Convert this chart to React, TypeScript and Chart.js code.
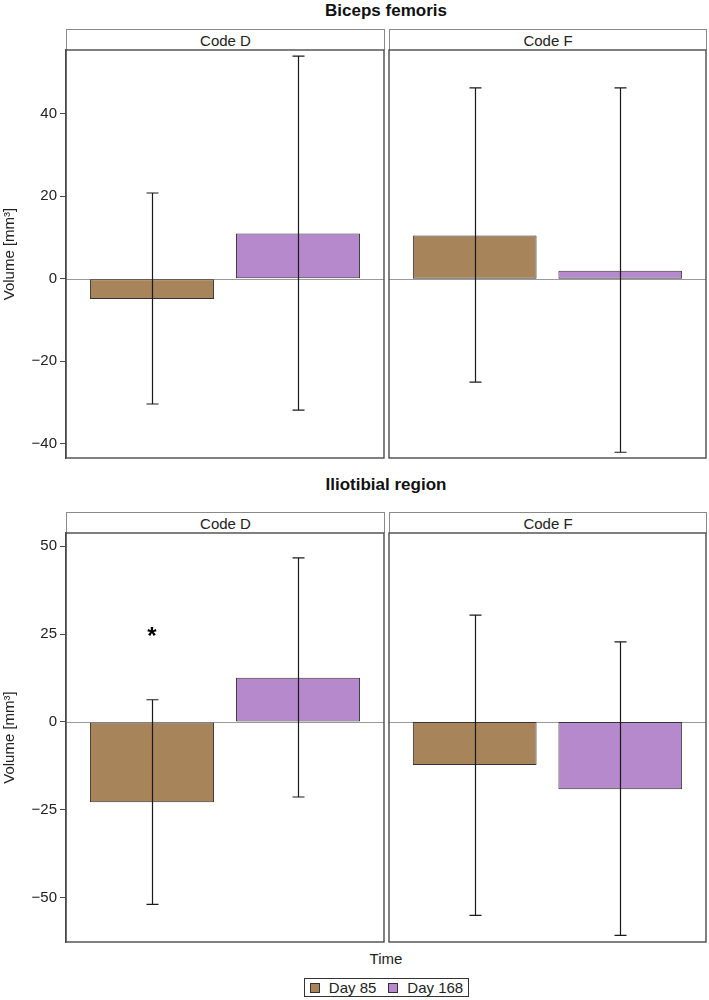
import React, { useEffect, useRef } from "react";
import { Chart, registerables } from "chart.js";

Chart.register(...registerables);

// ---------- data ----------
const timeLabels = ["Day 85", "Day 168"];
const codeLabels = ["Code D", "Code F"];
const regionTitles = ["Biceps femoris", "Iliotibial region"];
const xPositions = [1, 2];

const bicepsMeanD = [-4.9, 11.0];
const bicepsLowD = [-30.4, -31.9];
const bicepsHighD = [20.8, 54.0];
const bicepsMeanF = [10.5, 1.95];
const bicepsLowF = [-25.1, -42.1];
const bicepsHighF = [46.3, 46.3];

const iliotibialMeanD = [-22.9, 12.6];
const iliotibialLowD = [-52.0, -21.4];
const iliotibialHighD = [6.3, 46.7];
const iliotibialMeanF = [-12.3, -19.2];
const iliotibialLowF = [-55.1, -60.8];
const iliotibialHighF = [30.4, 22.8];

const bicepsTicks = [-40, -20, 0, 20, 40];
const iliotibialTicks = [-50, -25, 0, 25, 50];
const bicepsRange = [-43.5, 55.5];
const iliotibialRange = [-62.7, 53.8];

// significance marks: [index within panel, value]
const iliotibialStarsD = [[0, 25.5]];

const barColors = ["#A8845A", "#B689CC"];
const FONT = '"Liberation Sans", Arial, Helvetica, sans-serif';

Chart.defaults.font.family = FONT;

type PanelProps = {
  means: number[];
  lows: number[];
  highs: number[];
  range: number[];
  ticks: number[];
  showAxis: boolean;
  stars?: number[][];
  left: number;
  top: number;
  width: number;
  height: number;
};

function Panel(p: PanelProps) {
  const ref = useRef<HTMLCanvasElement | null>(null);
  useEffect(() => {
    if (!ref.current) return;
    const panelPlugin = {
      id: "panelDecor",
      beforeDatasetsDraw(chart: any) {
        const { ctx, chartArea } = chart;
        const y = Math.round(chart.scales.y.getPixelForValue(0)) + 0.5;
        ctx.save();
        ctx.strokeStyle = "#9a9a9a";
        ctx.lineWidth = 1;
        ctx.beginPath();
        ctx.moveTo(chartArea.left, y);
        ctx.lineTo(chartArea.right, y);
        ctx.stroke();
        ctx.restore();
      },
      afterDatasetsDraw(chart: any) {
        const { ctx, chartArea } = chart;
        const ys = chart.scales.y;
        const meta = chart.getDatasetMeta(0);
        ctx.save();
        ctx.strokeStyle = "#1a1a1a";
        ctx.lineWidth = 1.2;
        meta.data.forEach((el: any, i: number) => {
          const x = Math.round(el.x) + 0.5;
          const yl = ys.getPixelForValue(p.lows[i]);
          const yh = ys.getPixelForValue(p.highs[i]);
          ctx.beginPath();
          ctx.moveTo(x, yl);
          ctx.lineTo(x, yh);
          ctx.moveTo(x - 6, yl);
          ctx.lineTo(x + 6, yl);
          ctx.moveTo(x - 6, yh);
          ctx.lineTo(x + 6, yh);
          ctx.stroke();
        });
        (p.stars || []).forEach((s) => {
          const el = meta.data[s[0]];
          ctx.fillStyle = "#000";
          ctx.font = `bold 24px ${FONT}`;
          ctx.textAlign = "center";
          ctx.textBaseline = "middle";
          ctx.fillText("*", el.x, ys.getPixelForValue(s[1]) + 5);
        });
        ctx.strokeStyle = "#4a4a4a";
        ctx.lineWidth = 1.4;
        ctx.strokeRect(
          chartArea.left,
          chartArea.top,
          chartArea.right - chartArea.left,
          chartArea.bottom - chartArea.top
        );
        ctx.restore();
      },
    };

    const chart = new Chart(ref.current, {
      type: "bar",
      data: {
        datasets: [
          {
            data: p.means.map((v, i) => ({ x: xPositions[i], y: v })),
            backgroundColor: barColors,
            borderColor: "#333333",
            borderWidth: 1,
            borderSkipped: false,
            barPercentage: 0.85,
            categoryPercentage: 1,
          },
        ],
      },
      options: {
        responsive: false,
        animation: false,
        devicePixelRatio: 1,
        layout: {
          padding: { top: 2, bottom: 2, right: 2, left: p.showAxis ? 0 : 2 },
        },
        plugins: { legend: { display: false }, tooltip: { enabled: false } },
        scales: {
          x: {
            type: "linear",
            min: 0.411,
            max: 2.589,
            offset: false,
            grid: { offset: false },
            display: false,
            afterBuildTicks: (s: any) => {
              s.ticks = xPositions.map((v) => ({ value: v }));
            },
          },
          y: {
            type: "linear",
            min: p.range[0],
            max: p.range[1],
            display: p.showAxis,
            afterBuildTicks: (s: any) => {
              s.ticks = p.ticks.map((v) => ({ value: v }));
            },
            afterFit: (s: any) => {
              if (p.showAxis) s.width = 66;
              s.paddingTop = 0;
              s.paddingBottom = 0;
            },
            grid: {
              drawOnChartArea: false,
              drawTicks: true,
              tickLength: 6,
              color: "#4a4a4a",
            },
            border: { display: true, color: "#4a4a4a", width: 1.4 },
            ticks: {
              font: { size: 15 },
              color: "#222",
              padding: 3,
              callback: (v: any) => (Number(v) < 0 ? "\u2212" + Math.abs(Number(v)) : String(v)),
            },
            title: {
              display: true,
              text: "Volume [mm\u00B3]",
              font: { size: 15 },
              color: "#222",
              padding: { top: 1, bottom: 0 },
            },
          },
        },
      },
      plugins: [panelPlugin],
    } as any);
    return () => chart.destroy();
  }, []);
  return (
    <canvas
      ref={ref}
      width={p.width}
      height={p.height}
      style={{ position: "absolute", left: p.left, top: p.top, width: p.width, height: p.height }}
    />
  );
}

function Strip({ left, top, width, text }: { left: number; top: number; width: number; text: string }) {
  return (
    <div
      style={{
        position: "absolute",
        left,
        top,
        width: width - 2,
        height: 20,
        border: "1px solid #8a8a8a",
        borderBottom: "none",
        textAlign: "center",
        fontSize: 15,
        lineHeight: "21px",
        color: "#222",
        fontFamily: FONT,
      }}
    >
      {text}
    </div>
  );
}

function Title({ top, text }: { top: number; text: string }) {
  return (
    <div
      style={{
        position: "absolute",
        left: 66,
        width: 640,
        top,
        textAlign: "center",
        fontWeight: "bold",
        fontSize: 17,
        fontFamily: FONT,
        color: "#111",
      }}
    >
      {text}
    </div>
  );
}

export default function App() {
  const leftX = 0;
  const leftW = 386;
  const rightX = 387;
  const rightW = 321;
  return (
    <div style={{ position: "absolute", left: 0, top: 0, width: 709, height: 1000, background: "#fff", fontFamily: FONT }}>
      <Title top={1} text={regionTitles[0]} />
      <Strip left={66} top={29} width={319} text={codeLabels[0]} />
      <Strip left={389} top={29} width={318} text={codeLabels[1]} />
      <Panel means={bicepsMeanD} lows={bicepsLowD} highs={bicepsHighD} range={bicepsRange} ticks={bicepsTicks} showAxis={true} left={leftX} top={48} width={leftW} height={412} />
      <Panel means={bicepsMeanF} lows={bicepsLowF} highs={bicepsHighF} range={bicepsRange} ticks={bicepsTicks} showAxis={false} left={rightX} top={48} width={rightW} height={412} />

      <Title top={475} text={regionTitles[1]} />
      <Strip left={66} top={512} width={319} text={codeLabels[0]} />
      <Strip left={389} top={512} width={318} text={codeLabels[1]} />
      <Panel means={iliotibialMeanD} lows={iliotibialLowD} highs={iliotibialHighD} range={iliotibialRange} ticks={iliotibialTicks} showAxis={true} stars={iliotibialStarsD} left={leftX} top={531} width={leftW} height={413} />
      <Panel means={iliotibialMeanF} lows={iliotibialLowF} highs={iliotibialHighF} range={iliotibialRange} ticks={iliotibialTicks} showAxis={false} left={rightX} top={531} width={rightW} height={413} />

      <div style={{ position: "absolute", left: 66, width: 640, top: 950, textAlign: "center", fontSize: 15, color: "#222" }}>Time</div>
      <div
        style={{
          position: "absolute",
          left: 304,
          top: 978,
          width: 163,
          height: 17,
          border: "1px solid #333",
          display: "flex",
          alignItems: "center",
          justifyContent: "center",
          gap: 12,
          fontSize: 15,
          color: "#222",
        }}
      >
        {timeLabels.map((t, i) => (
          <span key={t} style={{ display: "flex", alignItems: "center", gap: 9 }}>
            <span style={{ width: 8, height: 8, background: barColors[i], border: "1px solid #333", display: "inline-block" }} />
            <span>{t}</span>
          </span>
        ))}
      </div>
    </div>
  );
}
